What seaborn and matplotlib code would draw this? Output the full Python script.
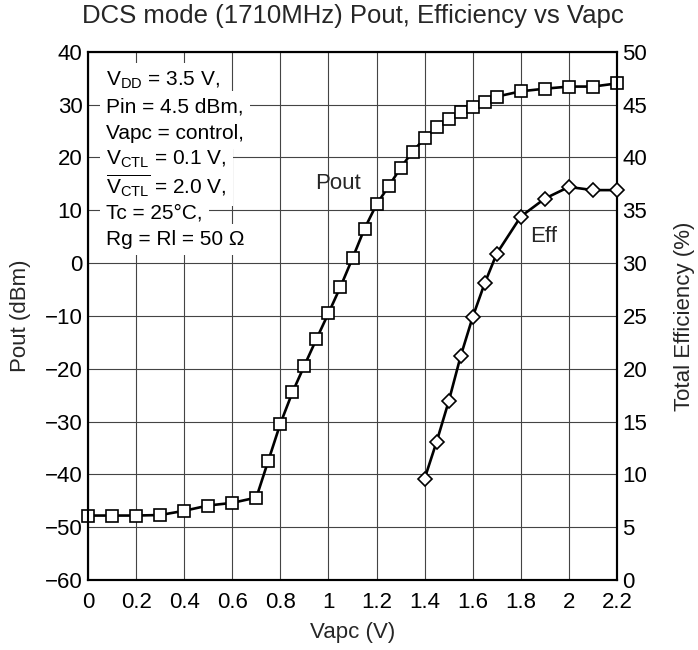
import matplotlib
matplotlib.use("Agg")
import matplotlib.pyplot as plt
import seaborn as sns
import pandas as pd
import numpy as np

# ---- data ----
vapc_pout = [0.0, 0.1, 0.2, 0.3, 0.4, 0.5, 0.6, 0.7, 0.75, 0.8, 0.85, 0.9, 0.95,
             1.0, 1.05, 1.1, 1.15, 1.2, 1.25, 1.3, 1.35, 1.4, 1.45, 1.5, 1.55,
             1.6, 1.65, 1.7, 1.8, 1.9, 2.0, 2.1, 2.2]
pout_dbm = [-47.8, -47.8, -47.8, -47.7, -46.9, -45.9, -45.4, -44.4, -37.4, -30.4,
            -24.5, -19.4, -14.4, -9.5, -4.5, 0.9, 6.5, 11.1, 14.5, 18.0, 21.1,
            23.6, 25.7, 27.2, 28.6, 29.5, 30.4, 31.5, 32.5, 33.0, 33.4, 33.4, 34.0]
vapc_eff = [1.4, 1.45, 1.5, 1.55, 1.6, 1.65, 1.7, 1.8, 1.9, 2.0, 2.1, 2.2]
eff_pct = [9.6, 13.1, 16.9, 21.2, 24.9, 28.1, 30.9, 34.4, 36.1, 37.2, 36.9, 36.9]

x_ticks = [0, 0.2, 0.4, 0.6, 0.8, 1.0, 1.2, 1.4, 1.6, 1.8, 2.0, 2.2]
x_ticklabels = ["0", "0.2", "0.4", "0.6", "0.8", "1", "1.2", "1.4", "1.6", "1.8", "2", "2.2"]
y_left_ticks = [-60, -50, -40, -30, -20, -10, 0, 10, 20, 30, 40]
y_right_ticks = [0, 5, 10, 15, 20, 25, 30, 35, 40, 45, 50]

conditions = [
    r"V$_{\mathrm{DD}}$ = 3.5 V,",
    "Pin = 4.5 dBm,",
    "Vapc = control,",
    r"V$_{\mathrm{CTL}}$ = 0.1 V,",
    r"$\overline{\mathrm{V}_{\mathrm{CTL}}}$ = 2.0 V,",
    "Tc = 25°C,",
    "Rg = Rl = 50 Ω",
]

title = "DCS mode (1710MHz) Pout, Efficiency vs Vapc"

# ---- style ----
sns.set_style("white")
plt.rcParams["font.family"] = ["Liberation Sans", "DejaVu Sans"]
plt.rcParams["mathtext.fontset"] = "custom"
plt.rcParams["mathtext.rm"] = "Liberation Sans"
plt.rcParams["mathtext.it"] = "Liberation Sans:italic"
plt.rcParams["mathtext.bf"] = "Liberation Sans:bold"
plt.rcParams["axes.unicode_minus"] = True

W, H = 698, 650
fig = plt.figure(figsize=(W / 100, H / 100), dpi=100)
left_px, right_px, top_px, bot_px = 88, 617, 51.7, 580
ax = fig.add_axes([left_px / W, 1 - bot_px / H, (right_px - left_px) / W, (bot_px - top_px) / H])
ax2 = ax.twinx()

df_p = pd.DataFrame({"Vapc": vapc_pout, "Pout": pout_dbm})
df_e = pd.DataFrame({"Vapc": vapc_eff, "Eff": eff_pct})

sns.lineplot(data=df_p, x="Vapc", y="Pout", ax=ax, color="black", lw=1.9,
             marker="s", markersize=9, markerfacecolor="white",
             markeredgecolor="black", markeredgewidth=1.2, zorder=5, clip_on=False)
sns.lineplot(data=df_e, x="Vapc", y="Eff", ax=ax2, color="black", lw=1.9,
             marker="D", markersize=7.5, markerfacecolor="white",
             markeredgecolor="black", markeredgewidth=1.2, zorder=5, clip_on=False)

ax.set_xlim(0, 2.2)
ax.set_ylim(-60, 40)
ax2.set_ylim(0, 50)
ax.set_xticks(x_ticks)
ax.set_xticklabels(x_ticklabels)
ax.set_yticks(y_left_ticks)
ax2.set_yticks(y_right_ticks)

ax.grid(True, color="#444444", lw=0.8)
ax2.grid(False)
for a in (ax, ax2):
    a.tick_params(length=0, labelsize=16, pad=4, colors="black")
    for s in a.spines.values():
        s.set_color("black")
        s.set_linewidth(1.5)
ax.tick_params(axis="x", pad=9)

ax.set_xlabel("Vapc (V)", fontsize=16, labelpad=6)
ax.set_ylabel("Pout (dBm)", fontsize=16, labelpad=10)
ax2.set_ylabel("Total Efficiency (%)", fontsize=16, labelpad=19)
ax.set_title(title, fontsize=18.5, pad=21)

# condition text block: white backgrounds first, then the text on top
line_px = [80, 106.7, 133.3, 159.5, 186, 212.7, 239.3]
for txt, py in zip(conditions, line_px):
    yf = (bot_px - py) / (bot_px - top_px)
    ax.text(0.034, yf, txt, transform=ax.transAxes, fontsize=15, va="center", ha="left",
            color=(0, 0, 0, 0), zorder=3,
            bbox=dict(facecolor="white", edgecolor="none", pad=4.5))
for txt, py in zip(conditions, line_px):
    yf = (bot_px - py) / (bot_px - top_px)
    ax.text(0.034, yf, txt, transform=ax.transAxes, fontsize=15, va="center", ha="left",
            color="black", zorder=4)

ax.text(1.041, 15.1, "Pout", fontsize=16, ha="center", va="center", zorder=3)
ax2.text(1.896, 32.5, "Eff", fontsize=16, ha="center", va="center", zorder=3)

fig.savefig("out.png", dpi=100)
